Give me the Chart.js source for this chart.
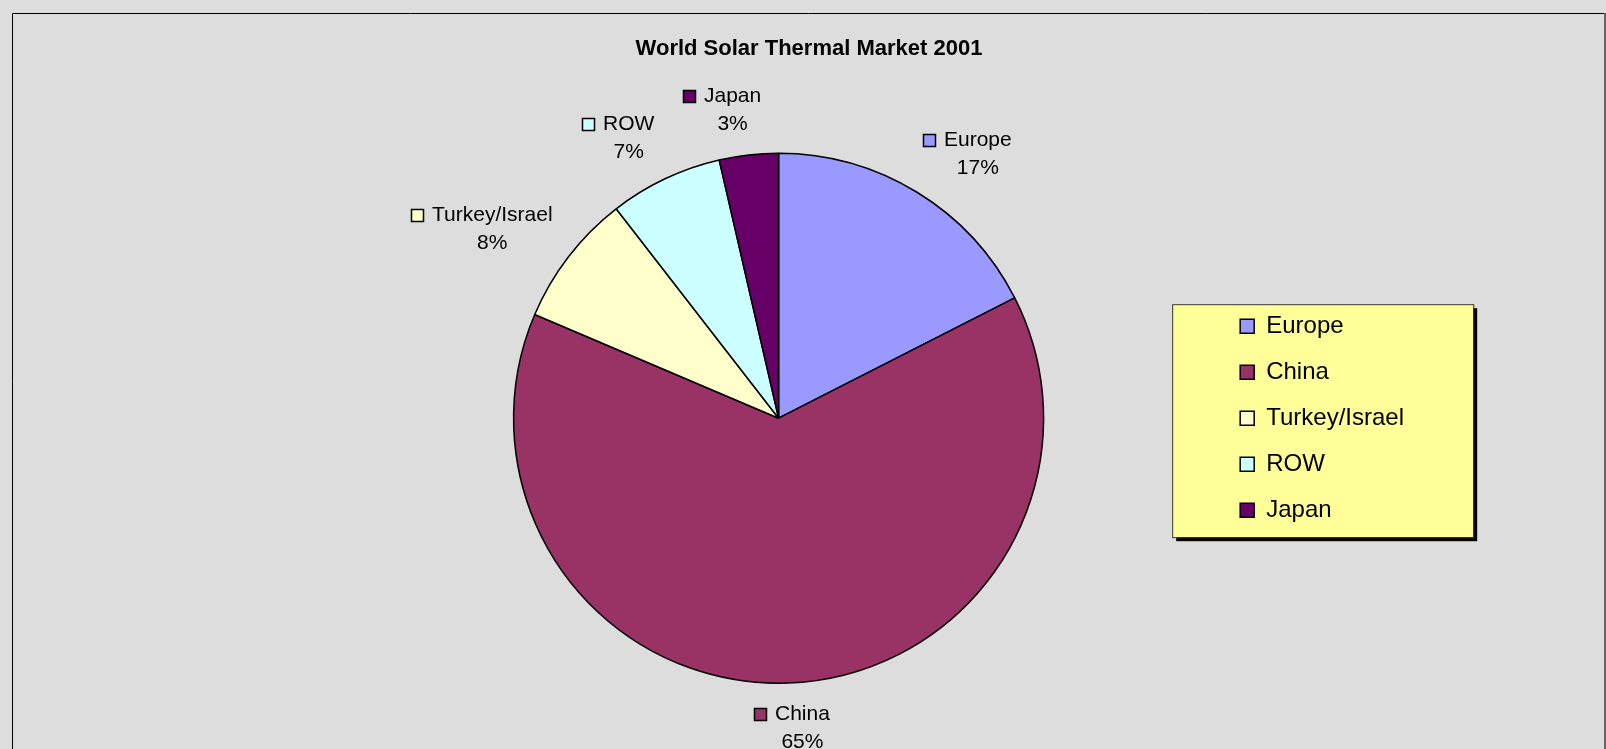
<!DOCTYPE html>
<html lang="en">
<head>
    <meta charset="UTF-8">
    <title>World Solar Thermal Market 2001</title>
    <script src="https://cdn.jsdelivr.net/npm/chart.js"></script>
    <style>
        html, body {
            margin: 0;
            padding: 0;
            background: #dddddd;
            overflow: hidden;
        }
        .chart-container {
            position: relative;
            width: 1606px;
            height: 749px;
        }
    </style>
</head>
<body>
    <div class="chart-container">
        <canvas id="marketChart"></canvas>
    </div>

    <script>
        // Values (share of world market, %)
        const regions = ['Europe', 'China', 'Turkey/Israel', 'ROW', 'Japan'];
        const marketShare = [17.5, 63.9, 8.1, 6.9, 3.6];
        const shareLabels = ['17%', '65%', '8%', '7%', '3%'];
        const sliceColors = ['#9999ff', '#993366', '#ffffcc', '#ccffff', '#660066'];

        const FONT = "'Liberation Sans', Arial, sans-serif";

        // Frame round the chart and the yellow legend box with its shadow
        const framePlugin = {
            id: 'frame',
            afterLayout(chart) {
                // centre the title on the whole frame, not between the padded boxes
                chart.titleBlock.left = 12;
                chart.titleBlock.right = chart.width;
            },
            beforeDraw(chart) {
                const ctx = chart.ctx;
                ctx.save();
                ctx.fillStyle = '#dddddd';
                ctx.fillRect(0, 0, chart.width, chart.height);

                ctx.strokeStyle = '#000';
                ctx.lineWidth = 1;
                ctx.beginPath();
                ctx.moveTo(12.5, chart.height);
                ctx.lineTo(12.5, 13.5);
                ctx.lineTo(chart.width - 2, 13.5);
                ctx.stroke();
                ctx.fillStyle = '#666';
                ctx.fillRect(chart.width - 2, 13, 2, chart.height);

                const boxes = chart.legend.legendHitBoxes;
                if (boxes && boxes.length) {
                    const first = boxes[0];
                    const last = boxes[boxes.length - 1];
                    const x = first.left - 68;
                    const y = first.top - 10;
                    const w = 301;
                    const h = last.top + last.height + 15 - y;
                    ctx.fillStyle = '#000';
                    ctx.fillRect(x + 4, y + 4, w, h);
                    ctx.fillStyle = '#ffff99';
                    ctx.fillRect(x, y, w, h);
                    ctx.strokeStyle = '#333';
                    ctx.strokeRect(x + 0.5, y + 0.5, w, h);
                }
                ctx.restore();
            }
        };

        // Excel style labels outside each slice: swatch + name, percent below
        const sliceLabelPlugin = {
            id: 'sliceLabels',
            afterDatasetsDraw(chart) {
                const ctx = chart.ctx;
                const arcs = chart.getDatasetMeta(0).data;
                ctx.save();
                ctx.font = '21px ' + FONT;
                ctx.textBaseline = 'middle';
                arcs.forEach((arc, i) => {
                    const p = arc.getProps(['x', 'y', 'startAngle', 'endAngle', 'outerRadius'], true);
                    const mid = (p.startAngle + p.endAngle) / 2;
                    const dx = Math.cos(mid);
                    const dy = Math.sin(mid);
                    const textW = ctx.measureText(regions[i]).width;
                    const w = 13 + 8 + textW;
                    const h = 56;
                    const dist = p.outerRadius + 17;
                    // push the block sideways by its half width, less so near the vertical
                    const side = Math.sign(dx) * Math.min(1, Math.abs(dx) / 0.2) * w / 2;
                    const cx = p.x + dx * dist + side - 3;
                    const cy = p.y + dy * dist + dy * h / 2;
                    const left = Math.round(cx - w / 2);
                    const y1 = Math.round(cy - 14);
                    const y2 = Math.round(cy + 14);

                    ctx.fillStyle = sliceColors[i];
                    ctx.fillRect(left, y1 - 6, 13, 13);
                    ctx.strokeStyle = '#000';
                    ctx.lineWidth = 1.5;
                    ctx.strokeRect(left + 0.5, y1 - 5.5, 12, 12);

                    ctx.fillStyle = '#000';
                    ctx.textAlign = 'left';
                    ctx.fillText(regions[i], left + 21, y1);
                    ctx.textAlign = 'center';
                    ctx.fillText(shareLabels[i], left + 21 + textW / 2, y2);
                });
                ctx.restore();
            }
        };

        const ctx = document.getElementById('marketChart').getContext('2d');
        const marketChart = new Chart(ctx, {
            type: 'pie',
            data: {
                labels: regions,
                datasets: [{
                    data: marketShare,
                    backgroundColor: sliceColors,
                    borderColor: '#000',
                    borderWidth: 1.5
                }]
            },
            options: {
                responsive: true,
                maintainAspectRatio: false,
                animation: false,
                radius: 265,
                layout: {
                    padding: { left: 339, right: 192, top: 0, bottom: 0 }
                },
                plugins: {
                    title: {
                        display: true,
                        text: 'World Solar Thermal Market 2001',
                        color: '#000',
                        font: { family: FONT, size: 22, weight: 'bold' },
                        padding: { top: 36, bottom: 25 }
                    },
                    legend: {
                        position: 'right',
                        fullSize: false,
                        labels: {
                            color: '#000',
                            font: { family: FONT, size: 24 },
                            boxWidth: 14,
                            boxHeight: 14,
                            padding: 22
                        }
                    },
                    tooltip: { enabled: false }
                }
            },
            plugins: [framePlugin, sliceLabelPlugin]
        });
    </script>
</body>
</html>
